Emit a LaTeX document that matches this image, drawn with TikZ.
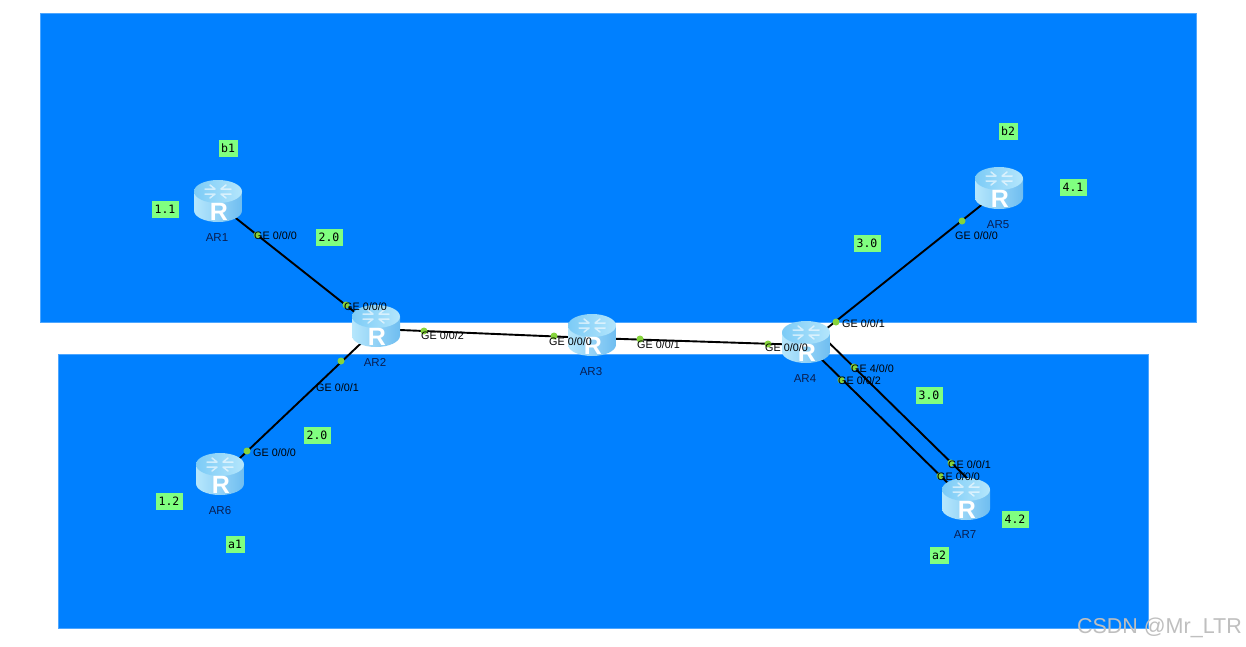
\documentclass[tikz,border=0pt]{standalone}
\usepackage{fontspec}
\setmainfont{Liberation Sans}
\newfontfamily\monolabel{DejaVu Sans Mono}
\definecolor{panelblue}{HTML}{0080FF}
\definecolor{paneledge}{HTML}{4DA6FF}
\definecolor{taggreen}{HTML}{80FF80}
\definecolor{portgreen}{HTML}{86D43C}
\definecolor{bodyleft}{HTML}{B6E7FC}
\definecolor{bodymid}{HTML}{8FD4F8}
\definecolor{bodyright}{HTML}{6FBDF0}
\definecolor{topleft}{HTML}{7CCBF6}
\definecolor{topright}{HTML}{B4E6FC}
\definecolor{namenavy}{HTML}{0A1E50}
\tikzset{
  x=1pt,y=-1pt,
  panel/.style={fill=panelblue,draw=paneledge,line width=0.6pt},
  routernode/.style={inner sep=0pt,minimum width=48pt,minimum height=42pt},
  link/.style={draw=black,line width=1.9pt},
  portdot/.style={circle,fill=portgreen,inner sep=0pt,minimum size=7pt},
  portlabel/.style={anchor=west,inner sep=0pt,text=black,font=\fontsize{10.8}{12}\selectfont},
  routername/.style={inner sep=0pt,text=namenavy,font=\fontsize{11.5}{13}\selectfont},
  tag/.style={fill=taggreen,inner sep=0pt,minimum height=17pt,text=black,font=\monolabel\fontsize{11.5}{13}\selectfont},
  tagtwo/.style={tag,minimum width=19pt},
  tagthree/.style={tag,minimum width=27pt},
  arrowmark/.style={draw=white,line width=1.5pt,opacity=0.6,line cap=round},
  routerletter/.style={inner sep=0pt,text=white,font=\fontsize{25}{25}\selectfont\bfseries},
}
\newcommand{\routerart}[1]{%
  \begin{scope}[shift={(#1.center)}]
    \path[left color=bodyleft,middle color=bodymid,right color=bodyright]
      (-24,-12.5) -- (-24,6.5) .. controls (-24,12.9) and (-13.3,18) .. (0,18)
      .. controls (13.3,18) and (24,12.9) .. (24,6.5) -- (24,-12.5) -- cycle;
    \path[left color=topleft,right color=topright] (0,-12.5) ellipse [x radius=24pt,y radius=11.5pt];
    \draw[arrowmark] (-13,-15) -- (-3,-15) (-8,-19) -- (-3,-15) (13,-15) -- (3,-15) (8,-19) -- (3,-15);
    \draw[arrowmark] (-13,-10) -- (-3,-10) (-8,-6) -- (-3,-10) (13,-10) -- (3,-10) (8,-6) -- (3,-10);
    \node[routerletter] at (1,8) {R};
  \end{scope}}
\begin{document}
\begin{tikzpicture}
\useasboundingbox (0,0) rectangle (1246,646);
\fill[white] (0,0) rectangle (1246,646);
\path[panel] (40,13) rectangle (1196,322);
\path[panel] (58,354) rectangle (1148,628);

\node[routernode] (ar1) at (218,204) {};
\node[routernode] (ar2) at (376,329) {};
\node[routernode] (ar3) at (592,338) {};
\node[routernode] (ar4) at (806,345) {};
\node[routernode] (ar5) at (999,191) {};
\node[routernode] (ar6) at (220,477) {};
\node[routernode] (ar7) at (966,502) {};
\coordinate (ar4a) at (815,329);
\coordinate (ar7a) at (975,486);
\coordinate (ar4b) at (810,348);
\coordinate (ar7b) at (960,495);

\draw[link] (ar1.center) -- (ar2.center);
\draw[link] (ar2.center) -- (ar6.center);
\draw[link] (ar2.center) -- (ar3.center);
\draw[link] (ar3.center) -- (ar4.center);
\draw[link] (ar4.center) -- (ar5.center);
\draw[link] (ar4a) -- (ar7a);
\draw[link] (ar4b) -- (ar7b);

\routerart{ar1}\routerart{ar2}\routerart{ar3}\routerart{ar4}\routerart{ar5}\routerart{ar6}\routerart{ar7}

\node[routername] (n1) at (217,238) {AR1};
\node[routername] (n2) at (375,362) {AR2};
\node[routername] (n3) at (591,372) {AR3};
\node[routername] (n4) at (805,379) {AR4};
\node[routername] (n5) at (998,225) {AR5};
\node[routername] (n6) at (220,511) {AR6};
\node[routername] (n7) at (965,535) {AR7};

\node[portdot] (d1) at (257,235) {};
\node[portdot] (d2) at (346,305) {};
\node[portdot] (d3) at (424,331) {};
\node[portdot] (d4) at (341,361) {};
\node[portdot] (d5) at (247,451) {};
\node[portdot] (d6) at (554,336) {};
\node[portdot] (d7) at (640,339) {};
\node[portdot] (d8) at (768,344) {};
\node[portdot] (d9) at (836,322) {};
\node[portdot] (d10) at (854,367) {};
\node[portdot] (d11) at (841,380) {};
\node[portdot] (d12) at (951,463) {};
\node[portdot] (d13) at (940,476) {};
\node[portdot] (d14) at (962,221) {};

\node[portlabel] (p1) at (254,236) {GE 0/0/0};
\node[portlabel] (p2) at (344,307) {GE 0/0/0};
\node[portlabel] (p3) at (421,336) {GE 0/0/2};
\node[portlabel] (p4) at (316,388) {GE 0/0/1};
\node[portlabel] (p5) at (253,453) {GE 0/0/0};
\node[portlabel] (p6) at (549,342) {GE 0/0/0};
\node[portlabel] (p7) at (637,345) {GE 0/0/1};
\node[portlabel] (p8) at (765,348) {GE 0/0/0};
\node[portlabel] (p9) at (842,324) {GE 0/0/1};
\node[portlabel] (p10) at (851,369) {GE 4/0/0};
\node[portlabel] (p11) at (838,381) {GE 0/0/2};
\node[portlabel] (p12) at (948,465) {GE 0/0/1};
\node[portlabel] (p13) at (937,477) {GE 0/0/0};
\node[portlabel] (p14) at (955,236) {GE 0/0/0};

\node[tagtwo] (t1) at (228,148) {b1};
\node[tagtwo] (t2) at (1008,131) {b2};
\node[tagtwo] (t3) at (235,544) {a1};
\node[tagtwo] (t4) at (939,555) {a2};
\node[tagthree] (t5) at (165,209) {1.1};
\node[tagthree] (t6) at (329,237) {2.0};
\node[tagthree] (t7) at (169,501) {1.2};
\node[tagthree] (t8) at (317,435) {2.0};
\node[tagthree] (t9) at (1073,187) {4.1};
\node[tagthree] (t10) at (867,243) {3.0};
\node[tagthree] (t11) at (929,395) {3.0};
\node[tagthree] (t12) at (1015,519) {4.2};

\node[anchor=east,inner sep=0pt,text=black!25,font=\fontsize{21.5}{24}\selectfont] (wm) at (1242,628) {CSDN @Mr\_LTR};
\end{tikzpicture}
\end{document}
